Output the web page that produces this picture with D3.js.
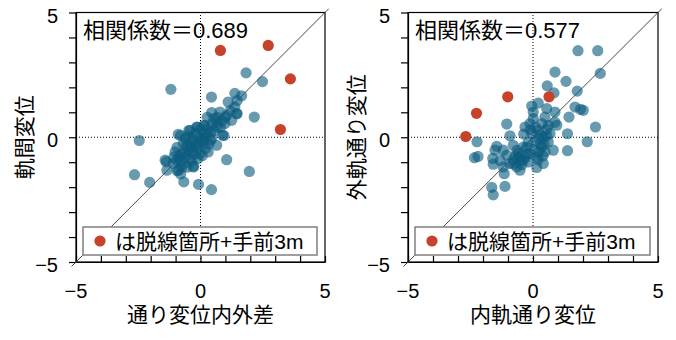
<!DOCTYPE html>
<html><head><meta charset="utf-8">
<script src="https://cdn.jsdelivr.net/npm/d3@7/dist/d3.min.js"></script>
<style>body{margin:0;background:#fff}svg{display:block}</style>
</head><body><svg id="c" width="676" height="340"></svg>
<script>
// ---- data ----
const domainMin = -5, domainMax = 5;
const tickLabels = [-5, 0, 5];
const legendLabel = "は脱線箇所+手前3m";

const leftTitleX = "通り変位内外差", leftTitleY = "軌間変位", leftCorr = "相関係数＝0.689";
const rightTitleX = "内軌通り変位", rightTitleY = "外軌通り変位", rightCorr = "相関係数＝0.577";

const leftBlue = [[-1.19,1.92],[1.83,2.58],[2.49,2.23],[0.44,1.61],[1.38,1.76],[1.65,1.66],[1.11,1.41],[2.16,0.81],[1.38,1.21],[1.45,0.95],[0.45,0.99],[0.78,1.01],[1.05,0.88],[1.25,0.68],[0.98,0.55],[0.65,0.61],[0.18,0.48],[-0.15,0.41],[-0.42,0.28],[-0.89,0.12],[0.89,0.08],[0.65,-0.32],[1.05,-0.9],[1.96,-1.37],[-2.46,-0.13],[-2.65,-1.5],[-2.04,-1.81],[-0.67,-1.79],[-0.08,-1.89],[0.44,-2.1],[-1.42,-0.92],[-1.35,-1.32],[-0.29,-1.19],[-0.89,-1.32],[-0.95,-0.92],[-1.09,-1.05],[-0.75,-0.65],[-0.55,-0.39],[-0.29,-0.12],[-0.02,0.01],[0.25,0.15],[0.11,-0.25],[-0.29,-0.52],[-0.02,-0.65],[-0.42,-0.85],[-0.69,-1.05],[0.31,-0.59],[0.45,-0.05],[-0.62,-0.05],[-0.69,-0.25],[-1.02,-0.59],[0.13,0.13],[0.4,0.2],[-0.47,0.27],[-0.13,0.4],[0.13,0.47],[0.07,-0.13],[-0.4,-0.4],[-0.27,-0.67],[-0.67,-0.67],[0.07,-0.74],[-1.07,-0.8],[-0.54,-1.2],[-0.8,-1.47],[-0.07,-0.4],[0.4,-0.13],[1.47,1.47],[1.2,1.07],[0.87,0.67],[0.67,0.4],[-0.8,0.07],[-0.33,0],[-0.2,-0.27],[-0.54,-0.27],[0.33,-0.27],[0.47,0.54],[0.67,0.8],[1.0,0.8],[1.47,0.94],[0.27,0.8],[0.54,0.74],[-0.94,-0.4],[-0.8,-0.94],[-0.27,-1.16],[-0.94,-1.34],[-1.37,-0.98],[0.94,0.07],[-0.15,-0.3],[0.2,-0.45],[-0.45,-0.55],[-0.6,-0.8],[0.0,0.3],[0.3,0.35],[-0.2,0.15],[-0.85,-0.75],[-0.35,-0.95],[0.55,0.25],[-0.1,-0.85],[-0.5,0.05],[0.15,-0.05],[-0.75,-1.2],[0.8,0.4]];
const leftRed = [[0.8,3.48],[2.72,3.68],[3.61,2.34],[3.21,0.31]];

const rightBlue = [[1.8,3.47],[2.59,3.47],[2.69,2.56],[0.88,2.61],[1.32,2.24],[0.57,2.06],[0.84,1.78],[1.77,1.85],[-0.05,1.25],[0.21,1.37],[0.01,1.01],[0.55,1.15],[0.88,1.01],[1.68,1.21],[2.01,1.08],[1.9,1.12],[1.44,0.81],[2.5,0.41],[-1.05,0.53],[-0.32,0.41],[0.95,0.48],[1.38,0.14],[2.17,-0.18],[1.38,-0.54],[0.81,-0.52],[-2.24,-0.18],[-2.34,-0.82],[-2.2,-0.77],[-0.92,0.06],[-1.45,-0.36],[-1.52,-0.52],[-1.61,-0.85],[-1.59,-1.08],[-1.19,-1.19],[-1.15,-1.46],[-0.52,-1.32],[0.15,-1.21],[0.41,-1.05],[-1.65,-2.01],[-1.59,-2.31],[-1.12,-1.97],[-0.79,-0.32],[-0.59,-0.65],[-0.39,-0.92],[-0.79,-0.92],[-1.05,-0.72],[-0.12,-0.65],[0.15,-0.79],[0.48,-0.59],[0.35,-0.39],[0.61,-0.19],[0.41,0.01],[0.68,0.15],[0.21,0.28],[-0.05,0.15],[-0.19,-0.19],[0.08,-0.19],[-0.39,-0.39],[0.35,0.55],[0.61,0.48],[-0.12,0.55],[0.01,0.75],[0.48,0.81],[0.88,0.6],[-1.19,-0.52],[-0.92,-1.05],[-0.65,-1.19],[-0.19,-0.99],[-0.37,0.13],[0.29,-0.27],[-0.64,-0.53],[-0.51,-0.93],[-0.77,-1.07],[-1.31,-0.93],[0.56,0.33],[-0.24,-0.67],[0.23,-0.6],[0.25,-0.05],[0.45,-0.3],[0.1,0.4],[-0.25,-0.4],[-0.55,-0.8],[0.05,-0.5],[-0.3,-0.8],[0.55,0.05],[-0.1,0.3],[0.3,0.1],[-0.45,-1.1],[0.2,-0.9],[-0.7,-0.75],[0.4,-0.75]];
const rightRed = [[-1.01,1.62],[0.64,1.62],[-2.26,0.96],[-2.69,0.03]];

// ---- drawing ----
const svg = d3.select("#c");
const latin = "'Liberation Sans', Arial, sans-serif";
const cjk = "'Liberation Sans', 'Noto Sans CJK JP', sans-serif";
const BLUE = "#0b5c80", RED = "#c6432a";

function fmt(v){ return v < 0 ? "\u2212" + Math.abs(v) : String(v); }

function panel(p){
  const x = d3.scaleLinear().domain([domainMin, domainMax]).range([p.x0, p.x1]);
  const y = d3.scaleLinear().domain([domainMin, domainMax]).range([p.y0, p.y1]);
  const g = svg.append("g");

  g.append("rect").attr("x", p.x0).attr("y", p.y1).attr("width", p.x1 - p.x0).attr("height", p.y0 - p.y1)
    .attr("fill", "none").attr("stroke", "#000").attr("stroke-width", 1.2);

  g.append("line").attr("x1", x(0)).attr("x2", x(0)).attr("y1", y(domainMin)).attr("y2", y(domainMax))
    .attr("stroke", "#000").attr("stroke-width", 1).attr("stroke-dasharray", "1,2");
  g.append("line").attr("x1", x(domainMin)).attr("x2", x(domainMax)).attr("y1", y(0)).attr("y2", y(0))
    .attr("stroke", "#000").attr("stroke-width", 1).attr("stroke-dasharray", "1,2");

  const xAxis = d3.axisBottom(x).tickValues(d3.range(domainMin, domainMax + 1)).tickSizeInner(-6).tickSizeOuter(0).tickFormat("");
  const gx = g.append("g").attr("transform", `translate(0,${p.y0})`).call(xAxis);
  gx.selectAll("path,line").attr("stroke", "#000").attr("stroke-width", 1.2);

  const yAxis = d3.axisLeft(y).tickValues(d3.range(domainMin, domainMax + 1)).tickSizeInner(7).tickSizeOuter(0).tickFormat("");
  const gy = g.append("g").attr("transform", `translate(${p.x0},0)`).call(yAxis);
  gy.selectAll("path,line").attr("stroke", "#000").attr("stroke-width", 1.2);

  g.selectAll(".xl").data(tickLabels).join("text")
    .attr("x", d => x(d)).attr("y", p.y0 + 36).attr("text-anchor", "middle")
    .attr("font-family", latin).attr("font-size", 20).text(fmt);
  g.selectAll(".yl").data(tickLabels).join("text")
    .attr("x", p.x0 - 18).attr("y", d => y(d) + 10).attr("text-anchor", "end")
    .attr("font-family", latin).attr("font-size", 20).text(fmt);

  g.append("line").attr("x1", x(-5.18)).attr("y1", y(-5.18)).attr("x2", x(5.15)).attr("y2", y(5.15))
    .attr("stroke", "#333").attr("stroke-width", 0.9);

  g.append("g").selectAll("circle").data(p.blue).join("circle")
    .attr("cx", d => x(d[0])).attr("cy", d => y(d[1])).attr("r", 5.6)
    .attr("fill", BLUE).attr("fill-opacity", 0.62);
  g.append("g").selectAll("circle").data(p.red).join("circle")
    .attr("cx", d => x(d[0])).attr("cy", d => y(d[1])).attr("r", 5.6)
    .attr("fill", RED);

  g.append("text").attr("x", p.x0 + 7).attr("y", p.y1 + 25)
    .attr("font-family", cjk).attr("font-size", 22).text(p.corr);

  const lx = p.x0 + 7, ly = p.y0 - 35, lw = p.x1 - p.x0 - 15, lh = 28;
  g.append("rect").attr("x", lx).attr("y", ly).attr("width", lw).attr("height", lh)
    .attr("fill", "#fff").attr("stroke", "#808080").attr("stroke-width", 1.5);
  g.append("circle").attr("cx", lx + 17).attr("cy", ly + lh / 2).attr("r", 5.6).attr("fill", RED);
  g.append("text").attr("x", lx + 32).attr("y", ly + lh / 2 + 7.5)
    .attr("font-family", cjk).attr("font-size", 21).text(legendLabel);

  g.append("text").attr("x", (p.x0 + p.x1) / 2).attr("y", 322).attr("text-anchor", "middle")
    .attr("font-family", cjk).attr("font-size", 21).text(p.tx);
  g.append("text").attr("transform", `translate(${p.tyx},${(p.y0 + p.y1) / 2}) rotate(-90)`)
    .attr("text-anchor", "middle").attr("dy", "0.35em")
    .attr("font-family", cjk).attr("font-size", 21).text(p.ty);
}

panel({x0: 76, x1: 325, y0: 262, y1: 12.5, blue: leftBlue, red: leftRed, corr: leftCorr, tx: leftTitleX, ty: leftTitleY, tyx: 25});
panel({x0: 408, x1: 658, y0: 262, y1: 12.5, blue: rightBlue, red: rightRed, corr: rightCorr, tx: rightTitleX, ty: rightTitleY, tyx: 357});
</script></body></html>
